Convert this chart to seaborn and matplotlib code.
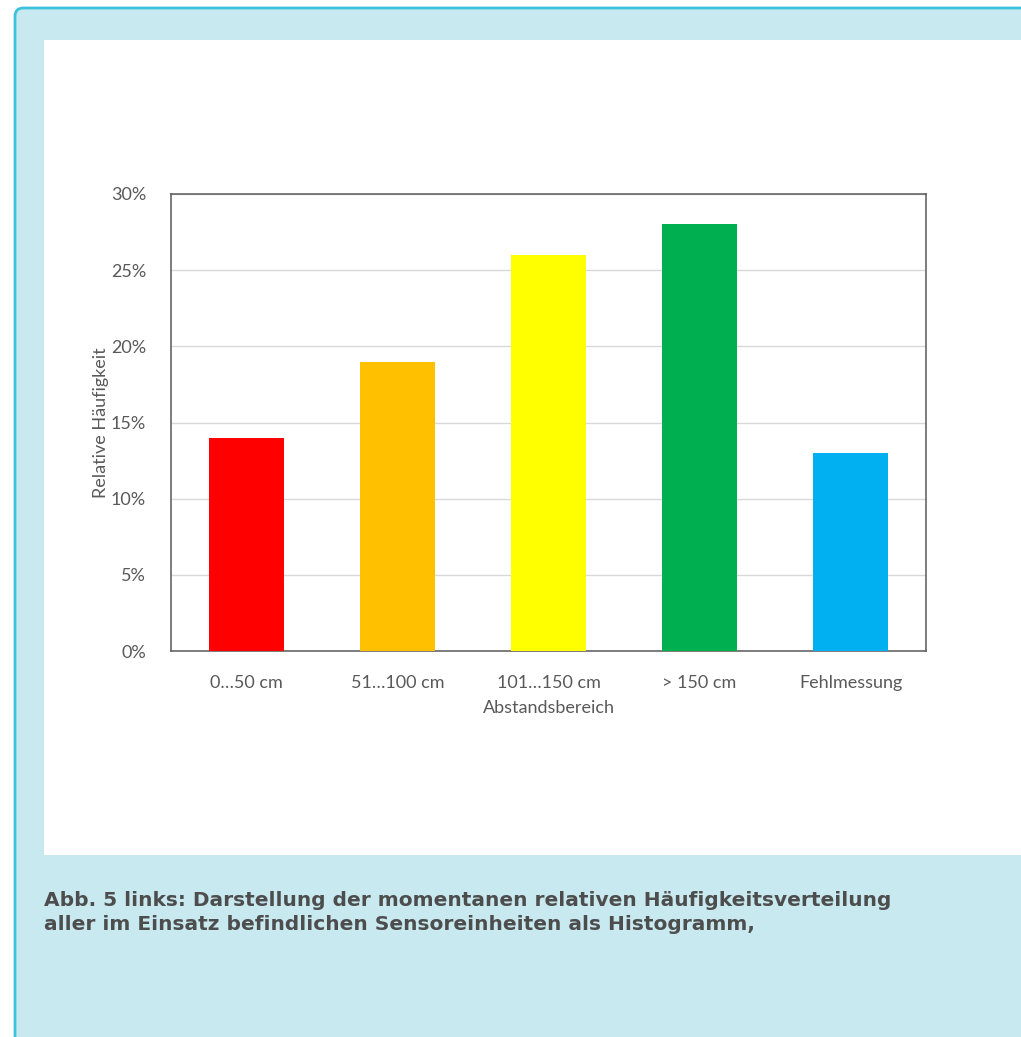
import matplotlib
matplotlib.use("Agg")
import matplotlib.pyplot as plt
from matplotlib.patches import FancyBboxPatch, Rectangle
from matplotlib.ticker import FuncFormatter
import seaborn as sns
import pandas as pd

categories = ["0…50 cm", "51…100 cm", "101…150 cm", "> 150 cm", "Fehlmessung"]
shares = [14, 19, 26, 28, 13]
bar_colors = ["#FF0000", "#FFC000", "#FFFF00", "#00B050", "#00B0F0"]
y_ticks = [0, 5, 10, 15, 20, 25, 30]
caption_lines = [
    "Abb. 5 links: Darstellung der momentanen relativen Häufigkeitsverteilung",
    "aller im Einsatz befindlichen Sensoreinheiten als Histogramm,",
]

sns.set_theme(style="white")
plt.rcParams["font.family"] = ["Lato", "DejaVu Sans"]

W, H = 1021, 1037
fig = plt.figure(figsize=(W / 100, H / 100), dpi=100)
fig.patch.set_facecolor("white")

# outer info box with rounded corner and cyan edge
box = FancyBboxPatch((15 / W, -0.1), 1.2, (H - 8) / H + 0.1,
                     boxstyle="round,pad=0,rounding_size=0.008",
                     transform=fig.transFigure, facecolor="#C8E9F0",
                     edgecolor="#3CC3DC", linewidth=2, zorder=0)
fig.patches.append(box)
# white chart panel
panel = Rectangle((44 / W, (H - 855) / H), 1.0, (855 - 40) / H,
                  transform=fig.transFigure, facecolor="white",
                  edgecolor="none", zorder=1)
fig.patches.append(panel)

ax = fig.add_axes([171 / W, (H - 651) / H, (926 - 171) / W, (651 - 194) / H])
ax.set_zorder(2)
df = pd.DataFrame({"Abstandsbereich": categories, "Anteil": shares})
sns.barplot(data=df, x="Abstandsbereich", y="Anteil", hue="Abstandsbereich",
            palette=bar_colors, width=0.5, saturation=1, legend=False, ax=ax,
            linewidth=0, edgecolor="none", zorder=3)

ax.set_xlim(-0.5, len(categories) - 0.5)
ax.set_ylim(0, 30)
ax.set_yticks(y_ticks)
ax.yaxis.set_major_formatter(FuncFormatter(lambda v, _: f"{v:.0f}%"))
ax.grid(axis="y", color="#D9D9D9", linewidth=1, zorder=0)
ax.set_axisbelow(True)
for s in ax.spines.values():
    s.set_visible(True)
    s.set_color("#595959")
    s.set_linewidth(1.1)
ax.tick_params(axis="both", length=0, labelsize=13, labelcolor="#595959")
ax.tick_params(axis="x", pad=17)
ax.tick_params(axis="y", pad=18)
ax.set_xlabel("Abstandsbereich", fontsize=13, color="#595959", labelpad=7)
ax.set_ylabel("Relative Häufigkeit", fontsize=13, color="#595959", labelpad=1)

for i, line in enumerate(caption_lines):
    fig.text(44 / W, (H - 900 - 25 * i) / H, line, fontsize=14.5,
             color="#4D4D4D", fontweight="bold", va="center", ha="left",
             family=["DejaVu Sans"], zorder=3)

fig.savefig("out.png", dpi=100, facecolor=fig.get_facecolor())
